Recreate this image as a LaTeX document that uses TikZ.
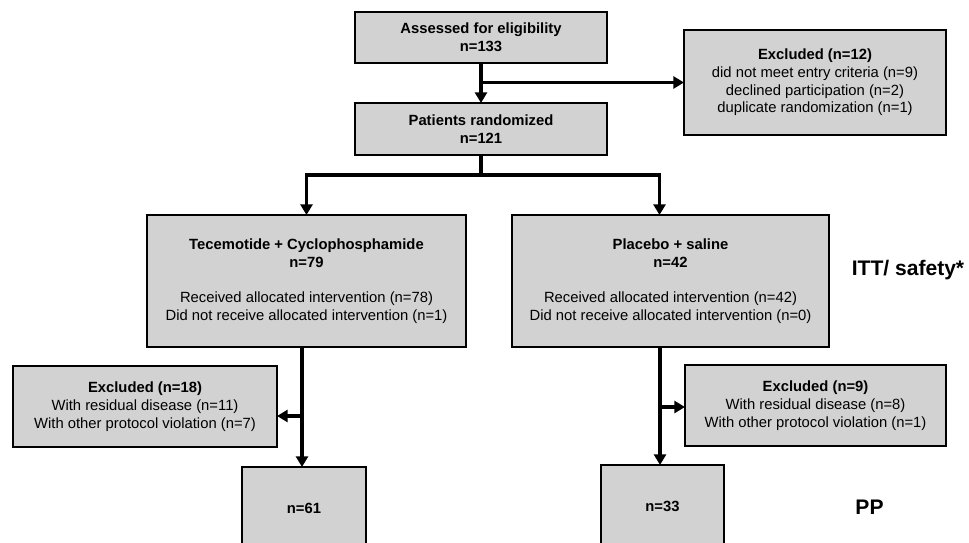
\documentclass[tikz,border=0pt]{standalone}
\usepackage{fontspec}
\setmainfont{Liberation Sans}
\usetikzlibrary{arrows.meta}
\definecolor{boxgray}{RGB}{210,210,210}
\begin{document}
\begin{tikzpicture}[x=0.75pt,y=-0.75pt,
  box/.style={draw=black,fill=boxgray,line width=1.3pt,inner sep=0pt,outer sep=0pt,align=center,font=\fontsize{11.1pt}{13.3pt}\selectfont},
  arr/.style={line width=2.3pt,-{Triangle[length=8pt,width=9pt]}},
  ln/.style={line width=2.3pt},
  big/.style={font=\fontsize{15.8pt}{19pt}\selectfont\bfseries,inner sep=0pt}]
\useasboundingbox (0,0) rectangle (969,542);
\clip (0,0) rectangle (969,542);
\node[box,minimum width=189pt,minimum height=38.25pt] (assess) at (481,37.5)
  {\textbf{Assessed for eligibility}\\\textbf{n=133}};
\node[box,minimum width=189pt,minimum height=39pt] (rand) at (481,129)
  {\textbf{Patients randomized}\\\textbf{n=121}};
\node[box,minimum width=196.5pt,minimum height=78.75pt] (excl12) at (815,82.5)
  {\textbf{Excluded (n=12)}\\did not meet entry criteria (n=9)\\declined participation (n=2)\\duplicate randomization (n=1)};
\node[box,minimum width=239.25pt,minimum height=99pt] (tec) at (306.5,281)
  {\textbf{Tecemotide + Cyclophosphamide}\\\textbf{n=79}\\[13.3pt]Received allocated intervention (n=78)\\Did not receive allocated intervention (n=1)};
\node[box,minimum width=237.75pt,minimum height=99pt] (pla) at (670.5,281)
  {\textbf{Placebo + saline}\\\textbf{n=42}\\[13.3pt]Received allocated intervention (n=42)\\Did not receive allocated intervention (n=0)};
\node[box,minimum width=198pt,minimum height=60.75pt] (excl18) at (145,406.5)
  {\textbf{Excluded (n=18)}\\With residual disease (n=11)\\With other protocol violation (n=7)};
\node[box,minimum width=195.75pt,minimum height=60.75pt] (excl9) at (815.5,405.5)
  {\textbf{Excluded (n=9)}\\With residual disease (n=8)\\With other protocol violation (n=1)};
\node[box,minimum width=93pt,minimum height=62.25pt] (n61) at (304,508.5) {\textbf{n=61}};
\node[box,minimum width=92.25pt,minimum height=62.25pt] (n33) at (662.5,506.5) {\textbf{n=33}};
\node[big] (itt) at (908,270) {ITT/ safety*};
\node[big] (pp) at (869.5,507) {PP};
% connectors
\draw[arr] (assess.south) -- (rand.north);
\coordinate (br) at (481,82.5);
\draw[arr] (br) -- (excl12.west);
\coordinate (split) at (481,175);
\coordinate (lb) at (306.5,175);
\coordinate (rb) at (659.5,175);
\draw[ln] (rand.south) -- (split);
\draw[arr] (split) -- (lb) -- (lb |- tec.north);
\draw[arr] (split) -- (rb) -- (rb |- pla.north);
\coordinate (lx) at (302,347);
\coordinate (rx) at (660,347);
\draw[arr] (lx) -- (lx |- n61.north);
\draw[arr] (rx) -- (rx |- n33.north);
\coordinate (lbr) at (302,416);
\coordinate (rbr) at (660,407);
\draw[arr] (lbr) -- (lbr -| excl18.east);
\draw[arr] (rbr) -- (rbr -| excl9.west);
\end{tikzpicture}
\end{document}
